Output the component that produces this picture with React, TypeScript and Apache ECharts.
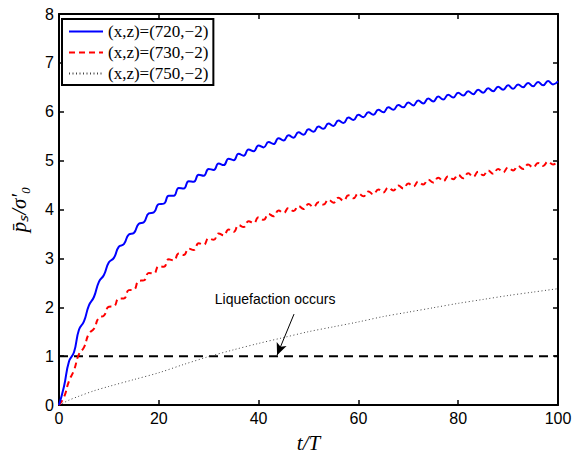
import React, { useEffect, useRef } from "react";
import * as echarts from "echarts";

const tValues: number[] = Array.from({ length: 101 }, (_, i) => i);

const blue720: number[] = [
  0, 0.38, 0.89, 1.08, 1.54, 1.71, 2.04, 2.21, 2.52, 2.66,
  2.92, 3.01, 3.24, 3.29, 3.49, 3.52, 3.71, 3.74, 3.92, 3.94,
  4.11, 4.12, 4.28, 4.28, 4.44, 4.43, 4.58, 4.57, 4.71, 4.69,
  4.83, 4.81, 4.94, 4.91, 5.04, 5.01, 5.14, 5.1, 5.23, 5.19,
  5.31, 5.27, 5.38, 5.34, 5.46, 5.41, 5.52, 5.47, 5.58, 5.53,
  5.64, 5.59, 5.7, 5.65, 5.76, 5.71, 5.82, 5.77, 5.88, 5.83,
  5.94, 5.89, 5.99, 5.94, 6.04, 5.99, 6.09, 6.04, 6.14, 6.09,
  6.19, 6.13, 6.23, 6.17, 6.27, 6.21, 6.31, 6.25, 6.35, 6.29,
  6.39, 6.33, 6.42, 6.36, 6.45, 6.39, 6.48, 6.42, 6.51, 6.45,
  6.54, 6.47, 6.56, 6.5, 6.59, 6.52, 6.61, 6.54, 6.63, 6.56,
  6.62,
];

const red730: number[] = [
  0, 0.16, 0.49, 0.71, 1.04, 1.18, 1.46, 1.56, 1.79, 1.83,
  2.01, 2.02, 2.18, 2.18, 2.35, 2.36, 2.54, 2.55, 2.7, 2.69,
  2.84, 2.83, 2.98, 2.96, 3.1, 3.07, 3.2, 3.17, 3.31, 3.28,
  3.41, 3.38, 3.51, 3.47, 3.59, 3.54, 3.68, 3.64, 3.76, 3.72,
  3.84, 3.79, 3.91, 3.86, 3.98, 3.93, 4.03, 3.97, 4.07, 4.01,
  4.11, 4.05, 4.15, 4.1, 4.2, 4.14, 4.24, 4.18, 4.29, 4.23,
  4.33, 4.27, 4.37, 4.31, 4.41, 4.35, 4.45, 4.39, 4.49, 4.43,
  4.53, 4.47, 4.57, 4.51, 4.61, 4.55, 4.65, 4.58, 4.68, 4.62,
  4.71, 4.64, 4.74, 4.67, 4.77, 4.7, 4.8, 4.73, 4.83, 4.76,
  4.86, 4.8, 4.89, 4.83, 4.92, 4.86, 4.95, 4.89, 4.98, 4.92,
  5.01,
];

const grayT: number[] = [0, 1, 2, 4, 7, 10, 15, 20, 25, 30, 35, 40, 45, 50, 55, 60, 65, 70, 75, 80, 85, 90, 95, 100];
const gray750: number[] = [0, 0.05, 0.1, 0.18, 0.29, 0.38, 0.52, 0.66, 0.83, 0.99, 1.13, 1.26, 1.38, 1.5, 1.6, 1.7, 1.81, 1.9, 1.99, 2.08, 2.16, 2.24, 2.31, 2.38];

const seriesNames: string[] = ["(x,z)=(720,\u22122)", "(x,z)=(730,\u22122)", "(x,z)=(750,\u22122)"];
const thresholdT: number[] = [0, 100];
const thresholdV: number[] = [1, 1];
const annotationText = "Liquefaction occurs";
const arrowFrom: number[] = [47.1, 1.86];
const arrowTo: number[] = [43.7, 1.02];
const annotationAt: number[] = [43.3, 2.16];

const sans = "'Liberation Sans', Arial, Helvetica, sans-serif";
const serif = "'Liberation Serif', 'Times New Roman', serif";

export default function App() {
  const ref = useRef<HTMLDivElement>(null);
  useEffect(() => {
    if (!ref.current) return;
    const chart = echarts.init(ref.current, null, { renderer: "svg" });
    const axisCommon = {
      type: "value" as const,
      axisLine: { show: true, onZero: false, lineStyle: { color: "#000", width: 2 } },
      axisTick: { show: true, inside: true, length: 5, lineStyle: { color: "#000", width: 1.5 } },
      splitLine: { show: false },
    };
    chart.setOption({
      animation: false,
      backgroundColor: "#fff",
      grid: { left: 57, right: 24, top: 14, bottom: 49, containLabel: false },
      legend: {
        data: seriesNames,
        orient: "vertical",
        left: 62,
        top: 19,
        padding: [4, 5, 3, 6],
        itemGap: 4,
        itemWidth: 34,
        itemHeight: 14,
        borderColor: "#000",
        borderWidth: 2,
        borderRadius: 0,
        backgroundColor: "#fff",
        itemStyle: { opacity: 0, borderWidth: 0 },
        textStyle: { fontFamily: serif, fontSize: 17, color: "#000" },
      },
      xAxis: [
        {
          ...axisCommon,
          min: 0,
          max: 100,
          interval: 20,
          position: "bottom",
          axisLabel: { color: "#000", fontSize: 16, fontFamily: sans, margin: 5 },
          name: "t/T",
          nameLocation: "middle",
          nameGap: 27,
          nameTextStyle: { fontFamily: serif, fontStyle: "italic", fontSize: 21, color: "#000" },
        },
        {
          ...axisCommon,
          min: 0,
          max: 100,
          interval: 20,
          position: "top",
          axisLabel: { show: false },
        },
      ],
      yAxis: [
        {
          ...axisCommon,
          min: 0,
          max: 8,
          interval: 1,
          position: "left",
          axisLabel: { color: "#000", fontSize: 16, fontFamily: sans, margin: 5 },
          name: "p\u0304\u209B/\u03C3\u2032\u2080",
          nameLocation: "middle",
          nameGap: 30,
          nameTextStyle: { fontFamily: serif, fontStyle: "italic", fontSize: 21, color: "#000" },
        },
        {
          ...axisCommon,
          min: 0,
          max: 8,
          interval: 1,
          position: "right",
          axisLabel: { show: false },
        },
      ],
      series: [
        {
          name: seriesNames[0],
          type: "line",
          data: tValues.map((t, i) => [t, blue720[i]]),
          showSymbol: false,
          symbol: "none",
          smooth: 0.5,
          lineStyle: { color: "#0000ff", width: 2 },
          itemStyle: { color: "#0000ff" },
          z: 5,
        },
        {
          name: seriesNames[1],
          type: "line",
          data: tValues.map((t, i) => [t, red730[i]]),
          showSymbol: false,
          symbol: "none",
          smooth: 0.5,
          lineStyle: { color: "#ff0000", width: 2, type: [6, 4] },
          itemStyle: { color: "#ff0000" },
          z: 4,
        },
        {
          name: seriesNames[2],
          type: "line",
          data: grayT.map((t, i) => [t, gray750[i]]),
          showSymbol: false,
          symbol: "none",
          smooth: 0.3,
          lineStyle: { color: "#444", width: 1, type: [1, 2.5] },
          itemStyle: { color: "#444" },
          z: 3,
        },
        {
          name: "threshold",
          type: "line",
          data: thresholdT.map((t, i) => [t, thresholdV[i]]),
          showSymbol: false,
          symbol: "none",
          lineStyle: { color: "#000", width: 2, type: [9, 6] },
          z: 2,
          markLine: {
            silent: true,
            symbol: ["none", "arrow"],
            symbolSize: [8, 12],
            lineStyle: { color: "#000", width: 1, type: "solid" },
            label: { show: false },
            data: [[{ coord: arrowFrom }, { coord: arrowTo }]],
          },
          markPoint: {
            silent: true,
            symbol: "circle",
            symbolSize: 0,
            label: {
              show: true,
              position: "inside",
              formatter: annotationText,
              color: "#000",
              fontFamily: sans,
              fontSize: 14,
            },
            data: [{ coord: annotationAt }],
          },
        },
      ],
    });
    return () => chart.dispose();
  }, []);
  return (
    <div
      ref={ref}
      style={{ position: "absolute", left: 0, top: 0, width: 582, height: 458 }}
    />
  );
}
